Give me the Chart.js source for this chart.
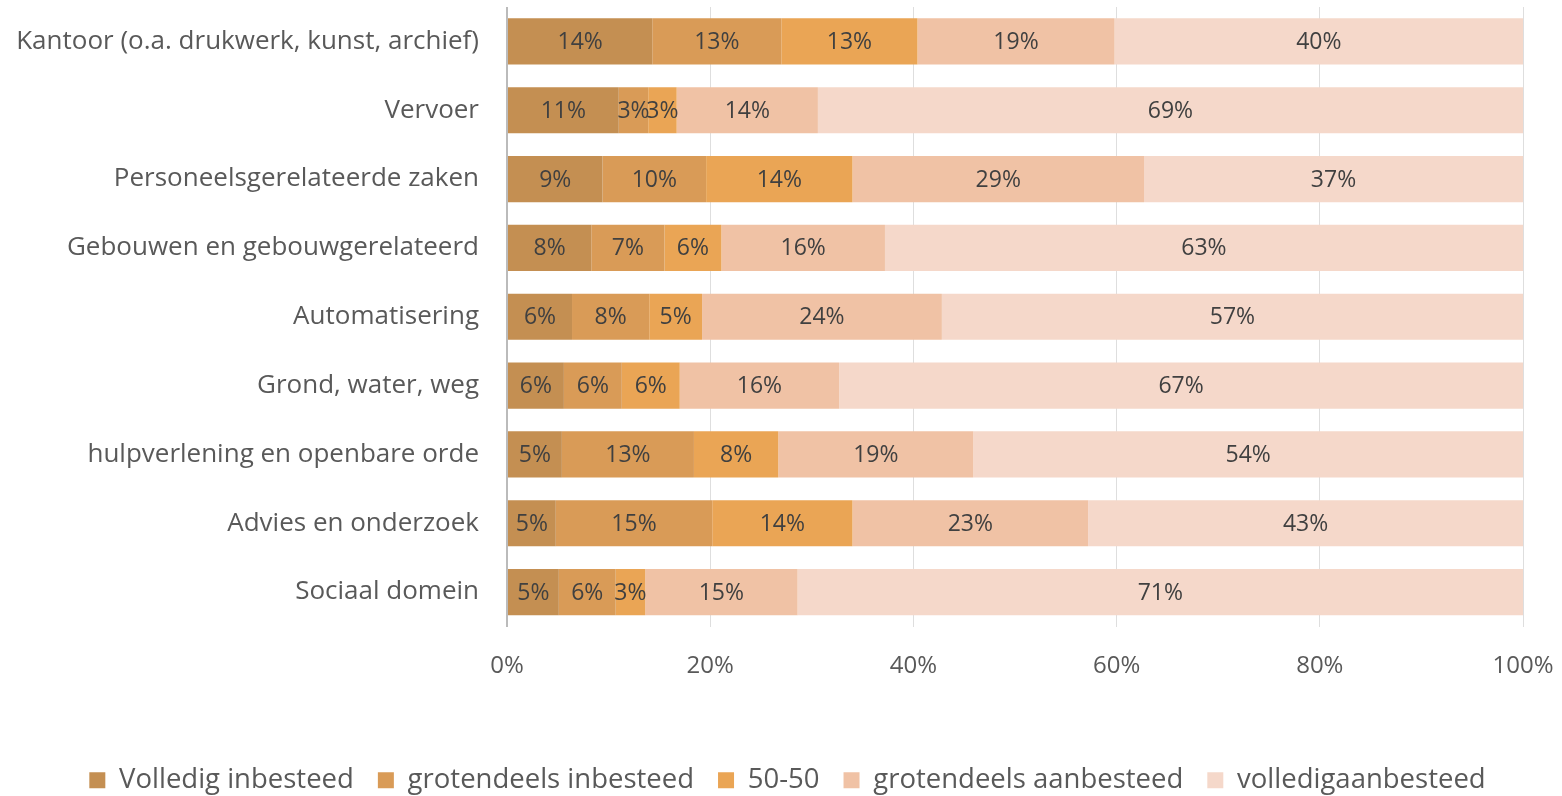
<!DOCTYPE html>
<html>
<head>
<meta charset="utf-8">
<script src="https://cdn.jsdelivr.net/npm/chart.js@4/dist/chart.umd.min.js"></script>
<style>
html,body{margin:0;padding:0;background:#fff;}
#wrap{width:1562px;height:796px;position:relative;}
</style>
</head>
<body>
<div id="wrap"><canvas id="c" width="1562" height="796"></canvas></div>
<script>
const categories = [
  "Kantoor (o.a. drukwerk, kunst, archief)",
  "Vervoer",
  "Personeelsgerelateerde zaken",
  "Gebouwen en gebouwgerelateerd",
  "Automatisering",
  "Grond, water, weg",
  "hulpverlening en openbare orde",
  "Advies en onderzoek",
  "Sociaal domein"
];
const seriesNames = ["Volledig inbesteed", "grotendeels inbesteed", "50-50", "grotendeels aanbesteed", "volledigaanbesteed"];
const volledigInbesteed     = [14.3, 11.0,  9.4,  8.3,  6.4,  5.6,  5.4,  4.8,  5.1];
const grotendeelsInbesteed  = [12.7,  2.9, 10.2,  7.2,  7.6,  5.7, 13.0, 15.4,  5.6];
const vijftigVijftig        = [13.4,  2.8, 14.4,  5.6,  5.2,  5.7,  8.3, 13.8,  2.9];
const grotendeelsAanbesteed = [19.4, 13.9, 28.7, 16.1, 23.6, 15.7, 19.2, 23.2, 15.0];
const volledigAanbesteed    = [40.2, 69.4, 37.3, 62.8, 57.2, 67.3, 54.1, 42.8, 71.4];
const xTicks = [0, 20, 40, 60, 80, 100];

const colors = ["#C48F52", "#D99B57", "#EAA555", "#F0C2A5", "#F5D8CA"];
const seriesData = [volledigInbesteed, grotendeelsInbesteed, vijftigVijftig, grotendeelsAanbesteed, volledigAanbesteed];
const FONT = "'Open Sans', 'DejaVu Sans', sans-serif";

const labelPlugin = {
  id: 'segLabels',
  afterLayout(chart) {
    // shift the centred legend slightly to the right, as in the original
    if (chart.legend) { chart.legend.left += 19; chart.legend.right += 19; }
  },
  afterDraw(chart) {
    const ctx = chart.ctx;
    ctx.save();
    ctx.font = "23px " + FONT;
    ctx.fillStyle = "#404040";
    ctx.textAlign = "center";
    ctx.textBaseline = "middle";
    chart.data.datasets.forEach((ds, di) => {
      const meta = chart.getDatasetMeta(di);
      meta.data.forEach((bar, i) => {
        const v = ds.data[i];
        const cx = (bar.x + bar.base) / 2;
        ctx.fillText(Math.round(v) + "%", cx, bar.y + 1);
      });
    });
    ctx.restore();
  }
};

new Chart(document.getElementById('c'), {
  type: 'bar',
  data: {
    labels: categories,
    datasets: seriesData.map((d, i) => ({
      label: seriesNames[i],
      data: d,
      backgroundColor: colors[i],
      borderWidth: 0,
      barPercentage: 0.67,
      categoryPercentage: 1
    }))
  },
  options: {
    indexAxis: 'y',
    responsive: false,
    devicePixelRatio: 1,
    animation: false,
    layout: { autoPadding: false, padding: { top: 7, left: 14, right: 39, bottom: -8 } },
    scales: {
      x: {
        stacked: true,
        min: 0, max: 100,
        z: 1,
        afterBuildTicks(scale) { scale.ticks = xTicks.map(v => ({ value: v })); },
        afterFit(scale) { scale.height = 116; scale.paddingLeft = 0; scale.paddingRight = 0; },
        ticks: {
          padding: 25,
          color: "#595959",
          font: { family: FONT, size: 24 },
          callback: v => v + "%"
        },
        grid: {
          drawTicks: false,
          color: ctx => ctx.index === 0 ? "rgba(170,170,170,0.8)" : "rgba(190,190,190,0.5)",
          lineWidth: ctx => ctx.index === 0 ? 2 : 1
        },
        border: { display: false }
      },
      y: {
        stacked: true,
        afterFit(scale) { scale.width = 493; scale.paddingTop = 0; scale.paddingBottom = 0; },
        ticks: {
          padding: 28,
          color: "#595959",
          font: { family: FONT, size: 26 }
        },
        grid: { display: false, drawTicks: false },
        border: { display: false }
      }
    },
    plugins: {
      legend: {
        position: 'bottom',
        labels: {
          boxWidth: 16,
          boxHeight: 16,
          padding: 24,
          color: "#595959",
          font: { family: FONT, size: 27.5 }
        }
      },
      tooltip: { enabled: false }
    }
  },
  plugins: [labelPlugin]
});
</script>
</body>
</html>
